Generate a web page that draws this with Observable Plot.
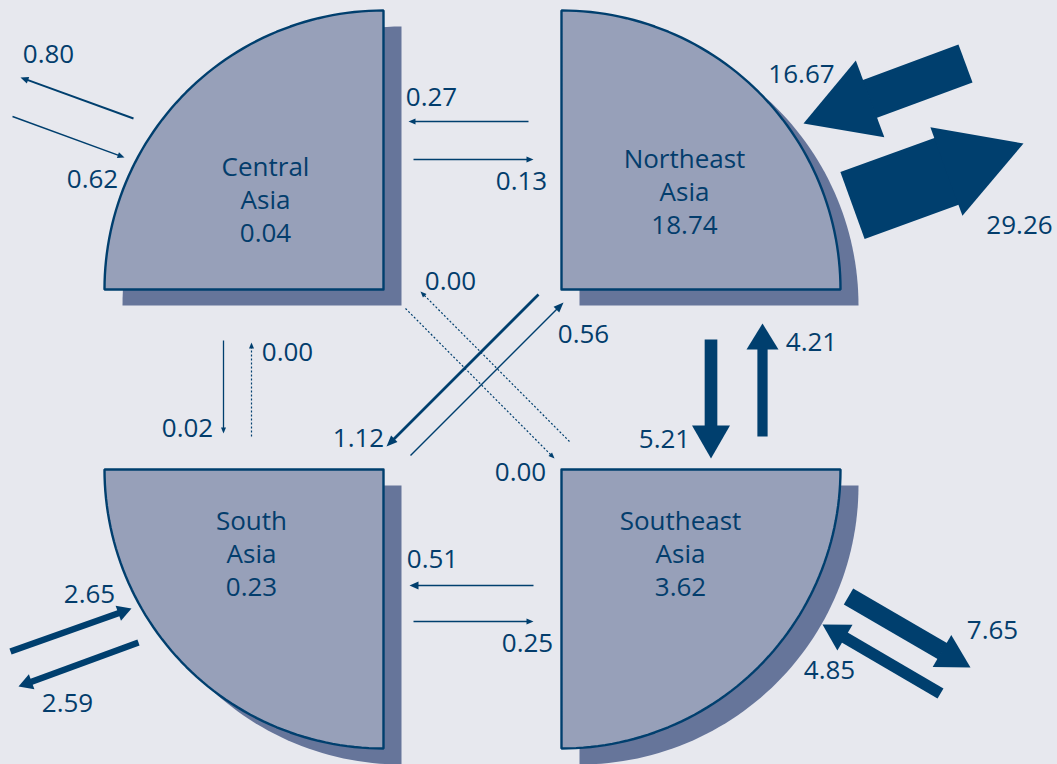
<!DOCTYPE html>
<html>
<head>
<meta charset="utf-8">
<script src="https://cdn.jsdelivr.net/npm/d3@7"></script>
<script src="https://cdn.jsdelivr.net/npm/@observablehq/plot@0.6"></script>
<style>
  html, body { margin: 0; padding: 0; background: #e7e8ee; }
  #chart svg { display: block; }
</style>
</head>
<body>
<div id="chart"></div>
<script>
// ---------- DATA ----------
const regions = ["Central Asia", "Northeast Asia", "South Asia", "Southeast Asia"];
const intraTrade = [0.04, 18.74, 0.23, 3.62];

const flowOrigin = [
  "Central Asia", "World", "Northeast Asia", "Central Asia",
  "Northeast Asia", "World", "Central Asia", "South Asia",
  "Northeast Asia", "Southeast Asia", "Northeast Asia", "South Asia",
  "Southeast Asia", "Central Asia", "Southeast Asia", "South Asia",
  "South Asia", "World", "Southeast Asia", "World"
];
const flowDestination = [
  "World", "Central Asia", "Central Asia", "Northeast Asia",
  "World", "Northeast Asia", "South Asia", "Central Asia",
  "Southeast Asia", "Northeast Asia", "South Asia", "Northeast Asia",
  "Central Asia", "Southeast Asia", "South Asia", "Southeast Asia",
  "World", "South Asia", "World", "Southeast Asia"
];
const flowValue = [
  0.80, 0.62, 0.27, 0.13,
  29.26, 16.67, 0.02, 0.00,
  5.21, 4.21, 1.12, 0.56,
  0.00, 0.00, 0.51, 0.25,
  2.59, 2.65, 7.65, 4.85
];

// ---------- LAYOUT (positions / sizes, kept apart from the data) ----------
const R = 279;
const sectorLayout = {
  "Central Asia":   {cx: 383, cy: 289, a0: Math.PI,       a1: 1.5 * Math.PI, lx: 265, ly: 198},
  "Northeast Asia": {cx: 561, cy: 289, a0: 1.5 * Math.PI, a1: 2 * Math.PI,   lx: 684, ly: 190},
  "South Asia":     {cx: 383, cy: 469, a0: 0.5 * Math.PI, a1: Math.PI,       lx: 251, ly: 552},
  "Southeast Asia": {cx: 561, cy: 469, a0: 0,             a1: 0.5 * Math.PI, lx: 680, ly: 552}
};
const shadowOffset = [18, 16];

// tail, tip, [head length, head width], label centre
const arrowLayout = {
  "Central Asia>World":            {t: [133, 118], p: [20, 77],   h: [8, 7],   l: [48, 54]},
  "World>Central Asia":            {t: [12, 116],  p: [124, 157], h: [7, 6],   l: [92, 179]},
  "Northeast Asia>Central Asia":   {t: [528, 121], p: [408, 121], h: [7, 6],   l: [431, 97]},
  "Central Asia>Northeast Asia":   {t: [413, 159], p: [533, 159], h: [7, 6],   l: [521, 181]},
  "Northeast Asia>World":          {t: [852, 205], p: [1023, 143], h: [82, 94], l: [1019, 225]},
  "World>Northeast Asia":          {t: [965, 63],  p: [803, 123], h: [71, 82], l: [801, 74]},
  "Central Asia>South Asia":       {t: [223, 340], p: [223, 433], h: [6, 5],   l: [187, 428]},
  "South Asia>Central Asia":       {t: [251, 436], p: [251, 342], h: [6, 5],   l: [287, 352]},
  "Northeast Asia>Southeast Asia": {t: [710.5, 339], p: [710.5, 458], h: [33, 38], l: [664, 439]},
  "Southeast Asia>Northeast Asia": {t: [762, 436], p: [762, 323], h: [26, 32], l: [811, 342]},
  "Northeast Asia>South Asia":     {t: [538, 294], p: [386, 446], h: [11, 9],  l: [358, 438]},
  "South Asia>Northeast Asia":     {t: [410, 455], p: [563, 302], h: [10, 8],  l: [583, 334]},
  "Southeast Asia>Central Asia":   {t: [569, 441], p: [420, 291], h: [6, 5],   l: [450, 281]},
  "Central Asia>Southeast Asia":   {t: [405, 308], p: [554, 458], h: [6, 5],   l: [520, 472]},
  "Southeast Asia>South Asia":     {t: [533, 585], p: [409, 585], h: [9, 8],   l: [432, 559]},
  "South Asia>Southeast Asia":     {t: [413, 621], p: [533, 621], h: [7, 6],   l: [527, 643]},
  "South Asia>World":              {t: [138, 642], p: [18, 686],  h: [14, 16], l: [67, 703]},
  "World>South Asia":              {t: [10, 651],  p: [131, 608], h: [14, 16], l: [89, 594]},
  "Southeast Asia>World":          {t: [848, 596], p: [970, 667], h: [33, 37], l: [992, 630]},
  "World>Southeast Asia":          {t: [940, 693], p: [822, 624], h: [26, 30], l: [829, 670]}
};

// ---------- STYLE ----------
const BG = "#e7e8ee", SECTOR = "#97a0b9", SHADOW = "#66759a", INK = "#003f6e", TEXT = "#033d6c";
const FONT = "Open Sans, Noto Sans, sans-serif";
const widthPerUnit = 2.43;
const fmt = d3.format(".2f");

// ---------- DERIVED TABLES ----------
const sectorPts = [], shadowPts = [];
regions.forEach((name) => {
  const s = sectorLayout[name];
  const pts = [[s.cx, s.cy]];
  d3.range(0, 61).forEach((i) => {
    const a = s.a0 + (s.a1 - s.a0) * i / 60;
    pts.push([s.cx + R * Math.cos(a), s.cy + R * Math.sin(a)]);
  });
  pts.push([s.cx, s.cy]);
  pts.forEach(([x, y]) => {
    sectorPts.push({id: name, x, y});
    shadowPts.push({id: name, x: x + shadowOffset[0], y: y + shadowOffset[1]});
  });
});

const regionLabels = regions.map((name, i) => ({
  text: name.split(" ").join("\n") + "\n" + fmt(intraTrade[i]),
  x: sectorLayout[name].lx, y: sectorLayout[name].ly
}));

const flows = flowValue.map((v, i) => {
  const key = flowOrigin[i] + ">" + flowDestination[i];
  const L = arrowLayout[key];
  const [tx, ty] = L.t, [px, py] = L.p, [hl, hw] = L.h;
  const len = Math.hypot(px - tx, py - ty);
  const ux = (px - tx) / len, uy = (py - ty) / len;
  const bx = px - ux * hl, by = py - uy * hl;
  return {
    key, value: v,
    x1: tx, y1: ty, x2: bx + ux * 0.8, y2: by + uy * 0.8,
    w: Math.max(1.3, v * widthPerUnit),
    dashed: v === 0,
    head: [
      [bx - uy * hw / 2, by + ux * hw / 2],
      [px, py],
      [bx + uy * hw / 2, by - ux * hw / 2]
    ],
    lx: L.l[0], ly: L.l[1]
  };
});
const headPts = flows.flatMap((f) => f.head.map(([x, y]) => ({id: f.key, x, y})));

// ---------- PLOT ----------
const chart = Plot.plot({
  width: 1057,
  height: 764,
  margin: 0,
  x: {domain: [0, 1057], range: [0, 1057], axis: null},
  y: {domain: [0, 764], range: [0, 764], axis: null},
  style: {background: BG, fontFamily: FONT},
  marks: [
    Plot.line(shadowPts, {x: "x", y: "y", z: "id", fill: SHADOW, stroke: "none", curve: "linear"}),
    Plot.line(sectorPts, {x: "x", y: "y", z: "id", fill: SECTOR, stroke: INK, strokeWidth: 2.4,
      strokeLinejoin: "miter", curve: "linear"}),
    Plot.link(flows.filter((f) => !f.dashed), {x1: "x1", y1: "y1", x2: "x2", y2: "y2",
      stroke: INK, strokeWidth: "w", strokeLinecap: "butt"}),
    Plot.link(flows.filter((f) => f.dashed), {x1: "x1", y1: "y1", x2: "x2", y2: "y2",
      stroke: INK, strokeWidth: 1.2, strokeDasharray: "2,2", strokeLinecap: "butt"}),
    Plot.line(headPts, {x: "x", y: "y", z: "id", fill: INK, stroke: "none", curve: "linear"}),
    Plot.text(regionLabels, {x: "x", y: "y", text: "text", fill: TEXT, fontSize: 26,
      lineHeight: 1.27, textAnchor: "middle", lineAnchor: "middle"}),
    Plot.text(flows, {x: "lx", y: "ly", text: (d) => fmt(d.value), fill: TEXT, fontSize: 26,
      textAnchor: "middle", lineAnchor: "middle"})
  ]
});
document.getElementById("chart").appendChild(chart);
</script>
</body>
</html>
